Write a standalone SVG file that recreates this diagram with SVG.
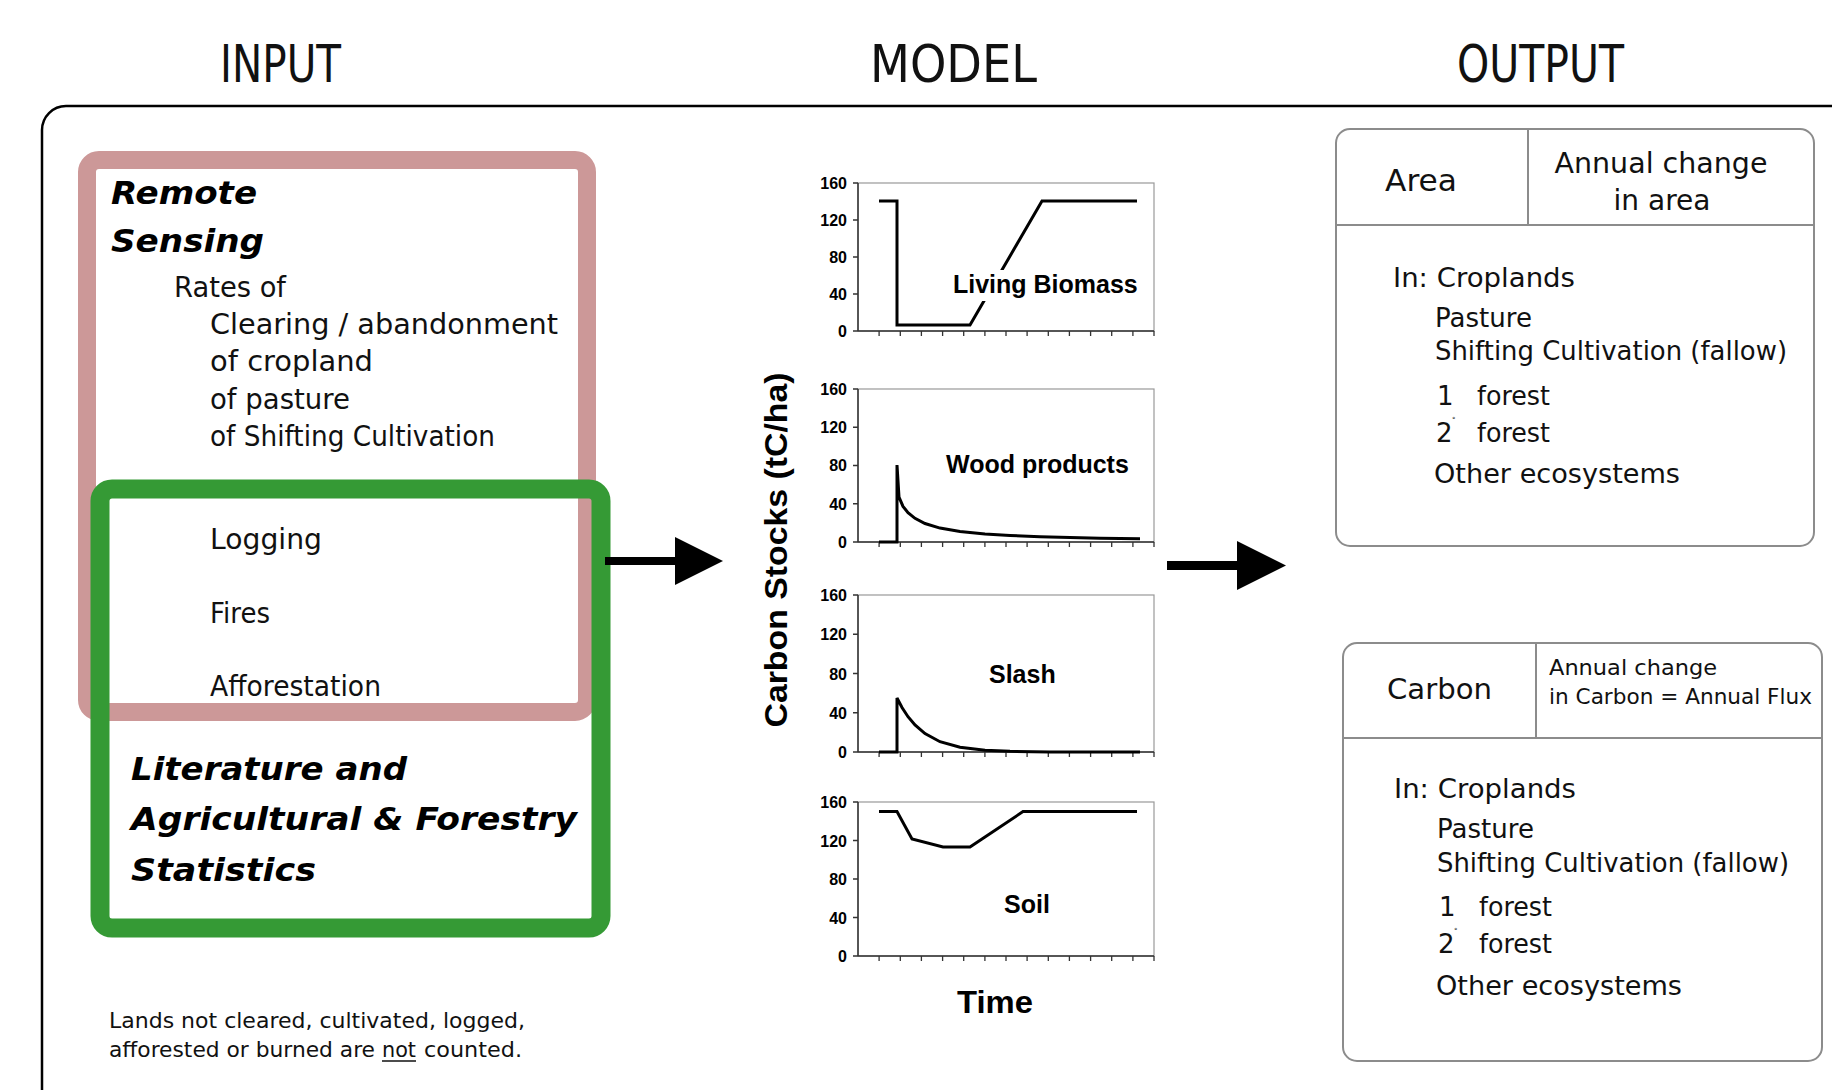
<svg xmlns="http://www.w3.org/2000/svg" width="1832" height="1090" viewBox="0 0 1832 1090">
<style>
.t{font-family:"DejaVu Sans","Liberation Sans",sans-serif;fill:#111}
.bi{font-family:"DejaVu Sans","Liberation Sans",sans-serif;font-weight:bold;font-style:oblique;font-size:32px;fill:#000}
.ch{font-family:"Liberation Sans",Arial,sans-serif;font-weight:bold;fill:#000}
.tick{font-size:16px;text-anchor:end}
.lbl{font-size:25px}
.curve{fill:none;stroke:#000;stroke-width:3;stroke-linejoin:miter}
.axis{fill:none;stroke:#333;stroke-width:1.5}
.pbox{fill:none;stroke:#999;stroke-width:1.2}
.obox{fill:none;stroke:#8c8c8c;stroke-width:2}
.rs{font-size:28px}
.ls{font-size:26px}
</style>
<rect x="0" y="0" width="1832" height="1090" fill="#fff"/>

<!-- titles -->
<g id="titles" class="t" style="font-size:52px">
<text x="220" y="82" textLength="121" lengthAdjust="spacingAndGlyphs">INPUT</text>
<text x="870" y="82" textLength="167" lengthAdjust="spacingAndGlyphs">MODEL</text>
<text x="1457" y="82" textLength="167" lengthAdjust="spacingAndGlyphs">OUTPUT</text>
</g>

<!-- outer frame -->
<path id="frame" d="M42,1095 V130 A24,24 0 0 1 66,106 H1836" fill="none" stroke="#000" stroke-width="2.5"/>

<!-- INPUT: remote sensing box -->
<g id="remote-sensing">
<rect x="87" y="160" width="500" height="552" rx="12" fill="none" stroke="#cc9898" stroke-width="18"/>
<text class="bi" x="111" y="204" textLength="146" lengthAdjust="spacingAndGlyphs">Remote</text>
<text class="bi" x="111" y="252" textLength="153" lengthAdjust="spacingAndGlyphs">Sensing</text>
<g class="t rs">
<text x="174" y="297" textLength="112" lengthAdjust="spacingAndGlyphs">Rates of</text>
<text x="210" y="334" textLength="348" lengthAdjust="spacingAndGlyphs">Clearing / abandonment</text>
<text x="210" y="371" textLength="163" lengthAdjust="spacingAndGlyphs">of cropland</text>
<text x="210" y="409" textLength="140" lengthAdjust="spacingAndGlyphs">of pasture</text>
<text x="210" y="446" textLength="285" lengthAdjust="spacingAndGlyphs">of Shifting Cultivation</text>
</g>
</g>

<!-- INPUT: literature box -->
<g id="literature-statistics">
<rect x="100" y="489" width="501" height="439" rx="12" fill="none" stroke="#359a35" stroke-width="19"/>
<g class="t rs">
<text x="210" y="549" textLength="112" lengthAdjust="spacingAndGlyphs">Logging</text>
<text x="210" y="623" textLength="60" lengthAdjust="spacingAndGlyphs">Fires</text>
<text x="210" y="696" textLength="171" lengthAdjust="spacingAndGlyphs">Afforestation</text>
</g>
<text class="bi" x="131" y="780" textLength="276" lengthAdjust="spacingAndGlyphs">Literature and</text>
<text class="bi" x="131" y="830" textLength="446" lengthAdjust="spacingAndGlyphs">Agricultural &amp; Forestry</text>
<text class="bi" x="131" y="881" textLength="185" lengthAdjust="spacingAndGlyphs">Statistics</text>
</g>

<!-- footnote -->
<g id="footnote" class="t" style="font-size:22px">
<text x="109" y="1028" textLength="416" lengthAdjust="spacingAndGlyphs">Lands not cleared, cultivated, logged,</text>
<text x="109" y="1057" textLength="266" lengthAdjust="spacingAndGlyphs">afforested or burned are</text>
<text x="382" y="1057" textLength="34" lengthAdjust="spacingAndGlyphs">not</text>
<text x="424" y="1057" textLength="98" lengthAdjust="spacingAndGlyphs">counted.</text>
<line x1="382" y1="1061" x2="416" y2="1061" stroke="#111" stroke-width="1.5"/>
</g>

<!-- MODEL charts -->
<defs>
<path id="xticks" d="M879.1,0v5M900.3,0v5M921.4,0v5M942.6,0v5M963.7,0v5M984.9,0v5M1006,0v5M1027.1,0v5M1048.3,0v5M1069.4,0v5M1090.6,0v5M1111.7,0v5M1132.9,0v5M1154,0v5" fill="none" stroke="#333" stroke-width="1.3"/>
</defs>

<g id="chart-living-biomass">
<rect class="pbox" x="858" y="183" width="296" height="148"/>
<path class="axis" d="M858,183 V331 H1154 M853,183 H858 M853,220 H858 M853,257 H858 M853,294 H858 M853,331 H858"/>
<use href="#xticks" y="331"/>
<g class="ch tick">
<text x="847" y="189">160</text><text x="847" y="226">120</text><text x="847" y="263">80</text><text x="847" y="300">40</text><text x="847" y="337">0</text>
</g>
<path class="curve" d="M879,201 H897 V325 H970 L1042,201 H1137"/>
<rect x="951" y="270" width="190" height="31" fill="#fff"/>
<text class="ch lbl" x="953" y="293">Living Biomass</text>
</g>

<g id="chart-wood-products">
<rect class="pbox" x="858" y="389" width="296" height="153"/>
<path class="axis" d="M858,389 V542 H1154 M853,389 H858 M853,427.25 H858 M853,465.5 H858 M853,503.75 H858 M853,542 H858"/>
<use href="#xticks" y="542"/>
<g class="ch tick">
<text x="847" y="395">160</text><text x="847" y="433">120</text><text x="847" y="471">80</text><text x="847" y="510">40</text><text x="847" y="548">0</text>
</g>
<path class="curve" d="M879,542 H897 V465 L899,497.1 L903,506.4 L908,512.6 L915,518.3 L925,523.5 L940,528.1 L960,531.5 L985,534 L1010,535.5 L1040,536.7 L1070,537.6 L1100,538.2 L1140,538.7"/>
<text class="ch lbl" x="946" y="473">Wood products</text>
</g>

<g id="chart-slash">
<rect class="pbox" x="858" y="595" width="296" height="157"/>
<path class="axis" d="M858,595 V752 H1154 M853,595 H858 M853,634.25 H858 M853,673.5 H858 M853,712.75 H858 M853,752 H858"/>
<use href="#xticks" y="752"/>
<g class="ch tick">
<text x="847" y="601">160</text><text x="847" y="640">120</text><text x="847" y="680">80</text><text x="847" y="719">40</text><text x="847" y="758">0</text>
</g>
<path class="curve" d="M879,752 H897 V698 L902,707.5 L908,716.7 L915,725 L925,733.6 L940,741.7 L960,747.2 L985,750.2 L1010,751.3 L1050,751.9 L1140,752"/>
<text class="ch lbl" x="989" y="683">Slash</text>
</g>

<g id="chart-soil">
<rect class="pbox" x="858" y="802" width="296" height="154"/>
<path class="axis" d="M858,802 V956 H1154 M853,802 H858 M853,840.5 H858 M853,879 H858 M853,917.5 H858 M853,956 H858"/>
<use href="#xticks" y="956"/>
<g class="ch tick">
<text x="847" y="808">160</text><text x="847" y="847">120</text><text x="847" y="885">80</text><text x="847" y="924">40</text><text x="847" y="962">0</text>
</g>
<path class="curve" d="M879,811.6 H897 L912,839 L943,847 H970 L1023,811.6 H1137"/>
<text class="ch lbl" x="1004" y="913">Soil</text>
</g>

<g id="axis-labels">
<text class="ch" x="957" y="1013" style="font-size:32px" textLength="76" lengthAdjust="spacingAndGlyphs">Time</text>
<text class="ch" transform="translate(787,550) rotate(-90)" text-anchor="middle" style="font-size:32px" textLength="355" lengthAdjust="spacingAndGlyphs">Carbon Stocks (tC/ha)</text>
</g>

<!-- OUTPUT: area -->
<g id="output-area">
<rect class="obox" x="1336" y="129" width="478" height="417" rx="14"/>
<path class="obox" d="M1336,225 H1814 M1528,129 V225"/>
<g class="t">
<text x="1385" y="191" style="font-size:31px" textLength="72" lengthAdjust="spacingAndGlyphs">Area</text>
<text x="1661" y="173" text-anchor="middle" style="font-size:28px" textLength="213" lengthAdjust="spacingAndGlyphs">Annual change</text>
<text x="1662" y="210" text-anchor="middle" style="font-size:28px" textLength="97" lengthAdjust="spacingAndGlyphs">in area</text>
<g class="ls">
<text x="1393" y="287" textLength="182" lengthAdjust="spacingAndGlyphs">In: Croplands</text>
<text x="1435" y="327" textLength="97" lengthAdjust="spacingAndGlyphs">Pasture</text>
<text x="1435" y="360" textLength="352" lengthAdjust="spacingAndGlyphs">Shifting Cultivation (fallow)</text>
<text x="1437" y="405">1</text><text x="1477" y="405" textLength="73" lengthAdjust="spacingAndGlyphs">forest</text>
<text x="1436" y="442">2</text><text x="1477" y="442" textLength="73" lengthAdjust="spacingAndGlyphs">forest</text>
<text x="1434" y="483" textLength="246" lengthAdjust="spacingAndGlyphs">Other ecosystems</text>
</g>
<text x="1452" y="422" style="font-size:7px">°</text>
</g>
</g>

<!-- OUTPUT: carbon -->
<g id="output-carbon">
<rect class="obox" x="1343" y="643" width="479" height="418" rx="14"/>
<path class="obox" d="M1343,738 H1822 M1536,643 V738"/>
<g class="t">
<text x="1387" y="699" style="font-size:29px" textLength="105" lengthAdjust="spacingAndGlyphs">Carbon</text>
<text x="1549" y="675" style="font-size:22px" textLength="168" lengthAdjust="spacingAndGlyphs">Annual change</text>
<text x="1549" y="704" style="font-size:22px" textLength="263" lengthAdjust="spacingAndGlyphs">in Carbon = Annual Flux</text>
<g class="ls">
<text x="1394" y="798" textLength="182" lengthAdjust="spacingAndGlyphs">In: Croplands</text>
<text x="1437" y="838" textLength="97" lengthAdjust="spacingAndGlyphs">Pasture</text>
<text x="1437" y="872" textLength="352" lengthAdjust="spacingAndGlyphs">Shifting Cultivation (fallow)</text>
<text x="1439" y="916">1</text><text x="1479" y="916" textLength="73" lengthAdjust="spacingAndGlyphs">forest</text>
<text x="1438" y="953">2</text><text x="1479" y="953" textLength="73" lengthAdjust="spacingAndGlyphs">forest</text>
<text x="1436" y="995" textLength="246" lengthAdjust="spacingAndGlyphs">Other ecosystems</text>
</g>
<text x="1454" y="933" style="font-size:7px">°</text>
</g>
</g>

<!-- connectors -->
<g id="connectors" fill="#000" stroke="none">
<rect x="605" y="557" width="72" height="8"/>
<polygon points="675,537 723,561 675,585"/>
<rect x="1167" y="561" width="72" height="9"/>
<polygon points="1237,541 1286,565.5 1237,590"/>
</g>
</svg>
